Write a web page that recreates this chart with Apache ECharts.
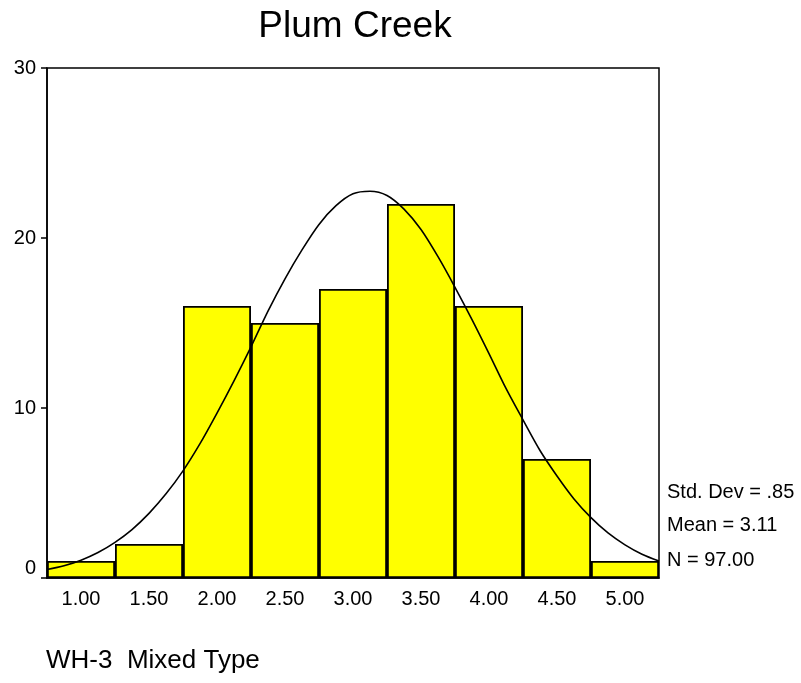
<!DOCTYPE html>
<html>
<head>
<meta charset="utf-8">
<script src="https://cdn.jsdelivr.net/npm/echarts@6/dist/echarts.min.js"></script>
<style>html,body{margin:0;padding:0;background:#fff;}#c{width:801px;height:683px;}</style>
</head>
<body>
<div id="c"></div>
<script>
var categories = ["1.00","1.50","2.00","2.50","3.00","3.50","4.00","4.50","5.00"];
var counts = [1, 2, 16, 15, 17, 22, 16, 7, 1];
var curveX = [0.75,0.875,1.00,1.125,1.25,1.375,1.50,1.625,1.75,1.875,2.00,2.125,2.25,2.375,2.50,2.625,2.75,2.875,3.00,3.125,3.25,3.375,3.50,3.625,3.75,3.875,4.00,4.125,4.25,4.375,4.50,4.625,4.75,4.875,5.00,5.125,5.25];
var curveY = [0.5,0.72,1.05,1.5,2.1,2.85,3.8,4.95,6.3,7.9,9.7,11.6,13.6,15.7,17.6,19.3,20.8,21.9,22.6,22.75,22.5,21.7,20.5,18.9,17.1,15.2,13.2,11.15,9.3,7.5,6.0,4.65,3.55,2.65,1.95,1.4,1.0];
var yTicks = [0,10,20,30];
var statsLines = ["Std. Dev = .85","Mean = 3.11","N = 97.00"];
var titleText = "Plum Creek";
var footText = "WH-3  Mixed Type";

var font = "Arial, 'Liberation Sans', sans-serif";
var chart = echarts.init(document.getElementById('c'));
var curve = curveX.map(function(x,i){return [x, curveY[i]];});
var statY = [492, 525, 560];
chart.setOption({
  animation: false,
  backgroundColor: '#fff',
  grid: {left: 47, right: 142, top: 68, bottom: 105, show: true, borderColor: '#000', borderWidth: 1.5, backgroundColor: 'transparent'},
  xAxis: [{
    type: 'category', data: categories, boundaryGap: true,
    axisLine: {lineStyle: {color: '#000', width: 1.5}},
    axisTick: {alignWithLabel: true, length: 6, lineStyle: {color: '#000', width: 1.5}},
    axisLabel: {fontFamily: font, fontSize: 20, color: '#000', margin: 11},
    splitLine: {show: false}
  },{
    type: 'value', min: 0.75, max: 5.25, show: false
  }],
  yAxis: {
    type: 'value', min: yTicks[0], max: yTicks[yTicks.length-1], interval: 10,
    axisLine: {show: true, lineStyle: {color: '#000', width: 1.5}},
    axisTick: {show: true, length: 6, lineStyle: {color: '#000', width: 1.5}},
    axisLabel: {
      fontFamily: font, fontSize: 20, color: '#000', margin: 11,
      formatter: function(v){ return v === 0 ? '{z|0}' : '{n|' + v + '}'; },
      rich: {
        z: {fontFamily: font, fontSize: 20, color: '#000', padding: [0,0,20,0]},
        n: {fontFamily: font, fontSize: 20, color: '#000'}
      }
    },
    splitLine: {show: false}
  },
  graphic: statsLines.map(function(t,i){
    return {type:'text', x: 667, y: statY[i], style:{text:t, font:'20px ' + font, fill:'#000', verticalAlign:'middle'}};
  }).concat([
    {type:'text', x: 46, y: 661, style:{text: footText, font:'26px ' + font, fill:'#000', verticalAlign:'middle'}},
    {type:'text', x: 355, y: 27, style:{text: titleText, font:'37px ' + font, fill:'#000', align:'center', verticalAlign:'middle'}}
  ]),
  series: [{
    type: 'bar', data: counts, barCategoryGap: '0%', xAxisIndex: 0,
    itemStyle: {color: '#ffff00', borderColor: '#000', borderWidth: 1.8}
  },{
    type: 'line', data: curve, xAxisIndex: 1, smooth: 0.3, symbol: 'none',
    lineStyle: {color: '#000', width: 1.6}, z: 5
  }]
});
</script>
</body>
</html>
